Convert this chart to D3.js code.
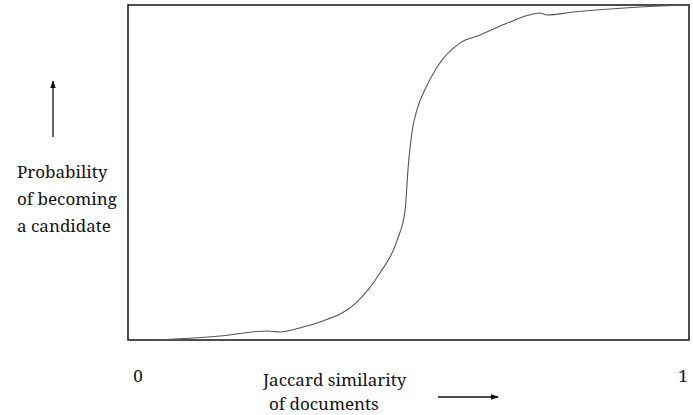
<!DOCTYPE html>
<html>
<head>
<meta charset="utf-8">
<script src="https://cdn.jsdelivr.net/npm/d3@7"></script>
<style>
  body { margin: 0; background: #fff; }
</style>
</head>
<body>
<div id="chart"></div>
<script>
// similarity (0..1) vs probability of becoming a candidate (0..1)
var similarity = [0.048, 0.164, 0.248, 0.271, 0.312, 0.342, 0.408, 0.449, 0.480, 0.494, 0.499,
                  0.506, 0.515, 0.529, 0.551, 0.592, 0.627, 0.676, 0.722, 0.734, 0.747, 0.793, 0.913, 1.0];
var probability = [0.0, 0.012, 0.027, 0.024, 0.039, 0.054, 0.113, 0.200, 0.299, 0.388, 0.507,
                   0.618, 0.687, 0.746, 0.815, 0.887, 0.910, 0.946, 0.973, 0.976, 0.970, 0.979, 0.994, 1.0];
var yLabel = ["Probability", "of becoming", "a candidate"];
var xLabel = ["Jaccard similarity", "of documents"];
var xTicks = ["0", "1"];

var width = 693, height = 415;
var margin = { top: 5, right: 4, bottom: 75, left: 128 };
var serif = "'Noto Serif', 'Liberation Serif', serif";

var svg = d3.select("#chart").append("svg")
    .attr("width", width)
    .attr("height", height);

var x = d3.scaleLinear().domain([0, 1]).range([margin.left, width - margin.right]);
var y = d3.scaleLinear().domain([0, 1]).range([height - margin.bottom, margin.top]);

var defs = svg.append("defs");
defs.append("marker")
    .attr("id", "head")
    .attr("viewBox", "0 0 10 10")
    .attr("refX", 9).attr("refY", 5)
    .attr("markerWidth", 8).attr("markerHeight", 8)
    .attr("markerUnits", "userSpaceOnUse")
    .attr("orient", "auto")
  .append("path")
    .attr("d", "M0,1.5L10,5L0,8.5Z")
    .attr("fill", "#111");

// frame
svg.append("rect")
    .attr("x", x(0))
    .attr("y", y(1))
    .attr("width", x(1) - x(0))
    .attr("height", y(0) - y(1))
    .attr("fill", "none")
    .attr("stroke", "#222")
    .attr("stroke-width", 1.6);

// the S-curve
var pts = similarity.map(function (d, i) { return [d, probability[i]]; });
var line = d3.line()
    .x(function (d) { return x(d[0]); })
    .y(function (d) { return y(d[1]); })
    .curve(d3.curveMonotoneX);

svg.append("path")
    .datum(pts)
    .attr("d", line)
    .attr("fill", "none")
    .attr("stroke", "#555")
    .attr("stroke-width", 1.1);

// end labels 0 and 1
svg.selectAll("text.tick")
    .data(xTicks)
    .enter().append("text")
    .attr("class", "tick")
    .attr("x", function (d, i) { return i === 0 ? x(0) + 10 : x(1) - 6; })
    .attr("y", 382)
    .attr("text-anchor", "middle")
    .attr("fill", "#111")
    .style("font-family", serif)
    .style("font-size", "17px")
    .text(function (d) { return d; });

// y label + arrow
svg.append("g").selectAll("text")
    .data(yLabel)
    .enter().append("text")
    .attr("x", 17)
    .attr("y", function (d, i) { return 178 + i * 27; })
    .attr("fill", "#111")
    .style("font-family", serif)
    .style("font-size", "17px")
    .text(function (d) { return d; });

svg.append("line")
    .attr("x1", 53).attr("y1", 137)
    .attr("x2", 53).attr("y2", 81)
    .attr("stroke", "#111")
    .attr("stroke-width", 1.3)
    .attr("marker-end", "url(#head)");

// x label + arrow
svg.append("g").selectAll("text")
    .data(xLabel)
    .enter().append("text")
    .attr("x", function (d, i) { return i === 0 ? 263 : 269; })
    .attr("y", function (d, i) { return 386 + i * 24; })
    .attr("fill", "#111")
    .style("font-family", serif)
    .style("font-size", "17px")
    .text(function (d) { return d; });

svg.append("line")
    .attr("x1", 438).attr("y1", 397)
    .attr("x2", 498).attr("y2", 397)
    .attr("stroke", "#111")
    .attr("stroke-width", 1.3)
    .attr("marker-end", "url(#head)");
</script>
</body>
</html>
